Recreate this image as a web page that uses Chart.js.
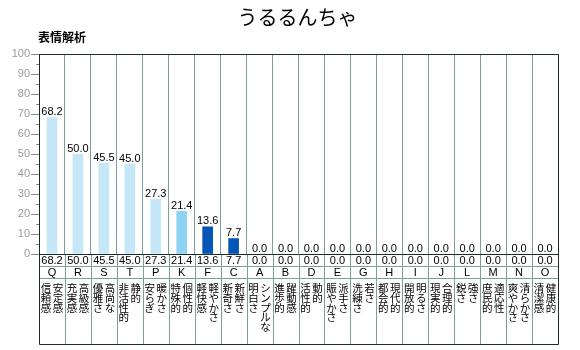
<!DOCTYPE html>
<html>
<head>
<meta charset="utf-8">
<script src="https://cdn.jsdelivr.net/npm/chart.js@4"></script>
<style>
  html, body { margin: 0; padding: 0; background: #fff; }
</style>
</head>
<body>
<canvas id="chart" width="580" height="350"></canvas>
<script>
// data
const codes = ['Q', 'R', 'S', 'T', 'P', 'K', 'F', 'C', 'A', 'B', 'D', 'E', 'G', 'H', 'I', 'J', 'L', 'M', 'N', 'O'];
const scores = [68.2, 50.0, 45.5, 45.0, 27.3, 21.4, 13.6, 7.7, 0, 0, 0, 0, 0, 0, 0, 0, 0, 0, 0, 0];
const wordsLeft = ['信頼感', '充実感', '優雅さ', '非活性的', '安らぎ', '特殊的', '軽快感', '新奇さ', '明白さ', '進歩的',
  '活性的', '賑やかさ', '洗練さ', '都会的', '開放的', '現実的', '鋭さ', '庶民的', '爽やかさ', '清潔感'];
const wordsRight = ['安定感', '高級感', '高尚な', '静的', '暖かさ', '個性的', '軽やかさ', '新鮮さ', 'シンプルな', '躍動感',
  '動的', '派手さ', '若さ', '現代的', '明るさ', '合理的', '強さ', '適応性', '清らかさ', '健康的'];
const minorTicks = [5, 15, 25, 35, 45, 55, 65, 75, 85, 95];

const chartTitle = 'うるるんちゃ';
const axisTitle = '表情解析';

// colours
const LIGHT = '#c6e7f7', MID = '#8fd3f4', DARK = '#0456b6';
const barColors = [LIGHT, LIGHT, LIGHT, LIGHT, LIGHT, MID, DARK, DARK,
  LIGHT, LIGHT, LIGHT, LIGHT, LIGHT, LIGHT, LIGHT, LIGHT, LIGHT, LIGHT, LIGHT, LIGHT];
const GRID = '#7c9d99';
const FRAME = '#1d2d29';
const NUM_FONT = '11px "Liberation Sans", Arial, sans-serif';
const JP_FONT = '"Noto Sans CJK JP", sans-serif';

// draws the frame, the table under the bars, labels and titles
const tablePlugin = {
  id: 'table',
  afterDraw(chart) {
    const ctx = chart.ctx;
    const area = chart.chartArea;
    const x = chart.scales.x;
    const y = chart.scales.y;
    const n = codes.length;
    const w = (area.right - area.left) / n;
    const row1 = area.bottom + 12;
    const row2 = area.bottom + 24;
    const tableBottom = area.bottom + 90;
    const px = v => Math.round(v) + 0.5;

    ctx.save();
    ctx.lineWidth = 1;

    // grey lines in the table
    ctx.strokeStyle = GRID;
    ctx.beginPath();
    for (let i = 1; i < n; i++) {
      const gx = px(area.left + i * w);
      ctx.moveTo(gx, area.bottom);
      ctx.lineTo(gx, tableBottom);
    }
    ctx.moveTo(area.left, px(row1));
    ctx.lineTo(area.right, px(row1));
    ctx.moveTo(area.left, px(row2));
    ctx.lineTo(area.right, px(row2));
    ctx.stroke();

    // dark frame
    ctx.strokeStyle = FRAME;
    ctx.beginPath();
    ctx.moveTo(px(area.left), px(area.top));
    ctx.lineTo(px(area.right), px(area.top));
    ctx.lineTo(px(area.right), px(tableBottom));
    ctx.lineTo(px(area.left), px(tableBottom));
    ctx.lineTo(px(area.left), px(area.top));
    ctx.moveTo(area.left, px(area.bottom));
    ctx.lineTo(area.right, px(area.bottom));
    ctx.stroke();

    // minor ticks on the value axis
    ctx.strokeStyle = '#888';
    ctx.beginPath();
    minorTicks.forEach(v => {
      const ty = px(y.getPixelForValue(v));
      ctx.moveTo(area.left - 3, ty);
      ctx.lineTo(area.left, ty);
    });
    ctx.stroke();

    // value labels above bars
    const meta = chart.getDatasetMeta(0);
    ctx.fillStyle = '#000';
    ctx.font = NUM_FONT;
    ctx.textAlign = 'center';
    ctx.textBaseline = 'bottom';
    meta.data.forEach((bar, i) => {
      ctx.fillText(scores[i].toFixed(1), bar.x, bar.y);
    });

    // table rows
    ctx.textBaseline = 'middle';
    codes.forEach((code, i) => {
      const cx = x.getPixelForValue(i);
      const left = area.left + i * w;
      ctx.font = NUM_FONT;
      ctx.fillText(scores[i].toFixed(1), cx, area.bottom + 7);
      ctx.fillText(code, cx, row1 + 7);
      ctx.font = '10.5px ' + JP_FONT;
      [...wordsLeft[i]].forEach((ch, k) => {
        ctx.fillText(ch, left + 7, row2 + 10 + k * 9.8);
      });
      [...wordsRight[i]].forEach((ch, k) => {
        ctx.fillText(ch, left + 19, row2 + 10 + k * 9.8);
      });
    });

    // titles
    ctx.font = '20px ' + JP_FONT;
    ctx.fillText(chartTitle, (area.left + area.right) / 2 - 1, 17);
    ctx.font = 'bold 12px ' + JP_FONT;
    ctx.textAlign = 'left';
    ctx.fillText(axisTitle, 38, 37);
    ctx.restore();
  }
};

new Chart(document.getElementById('chart'), {
  type: 'bar',
  data: {
    labels: codes,
    datasets: [{
      data: scores,
      backgroundColor: barColors,
      borderWidth: 0,
      barThickness: 10
    }]
  },
  options: {
    responsive: false,
    animation: false,
    layout: { padding: { top: 54, right: 22, bottom: 0, left: 0 } },
    plugins: {
      legend: { display: false },
      title: { display: false },
      tooltip: { enabled: false }
    },
    scales: {
      x: {
        afterFit: s => { s.height = 96; },
        ticks: { display: false },
        grid: { offset: true, color: GRID, lineWidth: 1, drawTicks: false },
        border: { display: false }
      },
      y: {
        min: 0,
        max: 100,
        afterFit: s => { s.width = 39; },
        ticks: {
          stepSize: 10,
          color: '#999',
          padding: 1,
          font: { family: '"Liberation Sans", Arial, sans-serif', size: 11 }
        },
        grid: { drawOnChartArea: false, tickLength: 8, tickColor: '#888' },
        border: { color: FRAME }
      }
    }
  },
  plugins: [tablePlugin]
});
</script>
</body>
</html>
